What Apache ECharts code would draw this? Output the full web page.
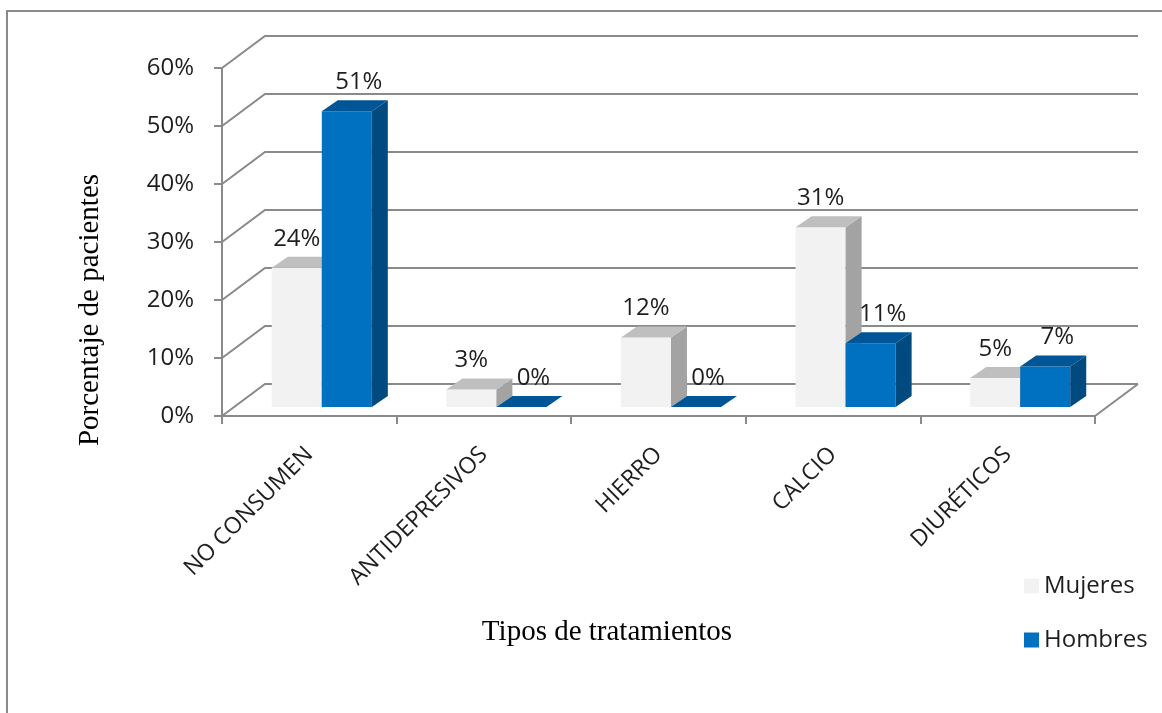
<!DOCTYPE html>
<html>
<head>
<meta charset="utf-8">
<script src="https://cdn.jsdelivr.net/npm/echarts@6/dist/echarts.min.js"></script>
<style>
  html, body { margin: 0; padding: 0; background: #ffffff; }
  #chart { width: 1162px; height: 713px; }
</style>
</head>
<body>
<div id="chart"></div>
<script>
// Treatment types and share of patients (%) by sex
const categories = ['NO CONSUMEN', 'ANTIDEPRESIVOS', 'HIERRO', 'CALCIO', 'DIURÉTICOS'];
const mujeres = [24, 3, 12, 31, 5];
const hombres = [51, 0, 0, 11, 7];
const yTicks = [0, 10, 20, 30, 40, 50, 60];

const LINE = '#8a8a8a';
const TEXT = '#1e1e1e';
const SANS = '"Open Sans", sans-serif';
const SERIF = '"Liberation Serif", "Times New Roman", serif';

// Oblique offsets of the pseudo-3D projection
const WALL = { dx: 43, dy: -32 };    // back wall relative to the front axis
const PLANE = { dx: 12.5, dy: -9 };  // front face of the bars
const DEPTH = { dx: 16, dy: -11 };   // thickness of each bar

const PALETTE = {
  Mujeres: { front: '#F2F2F2', side: '#A3A3A3', top: '#BFBFBF' },
  Hombres: { front: '#0070C0', side: '#004A80', top: '#005596' }
};

// Side-wall diagonals and back-wall gridlines, one per tick value
function renderWall(params, api) {
  const cs = params.coordSys;
  const v = api.value(1);
  const y = api.coord([0, v])[1];
  const x0 = cs.x, x1 = cs.x + cs.width;
  const children = [{
    type: 'polyline',
    shape: { points: [[x0, y], [x0 + WALL.dx, y + WALL.dy], [x1 + WALL.dx, y + WALL.dy]] },
    style: { stroke: LINE, lineWidth: 2, fill: null }
  }];
  if (v === 0) {
    children.push({
      type: 'line',
      shape: { x1: x1, y1: y, x2: x1 + WALL.dx, y2: y + WALL.dy },
      style: { stroke: LINE, lineWidth: 2 }
    });
  }
  return { type: 'group', children: children };
}

// A box-shaped bar: front face, right side, top face and value label
function boxRenderer(slot, colors) {
  return function (params, api) {
    const i = api.value(0);
    const v = api.value(1);
    const band = api.size([1, 0])[0];
    const base = api.coord([i, 0]);
    const top = api.coord([i, v])[1] + PLANE.dy;
    const bottom = base[1] + PLANE.dy;
    const w = band * 0.2865;
    const left = base[0] + PLANE.dx + (slot === 0 ? -w : 0);
    const right = left + w;
    const d = DEPTH;
    const children = [];
    if (bottom - top > 0.5) {
      children.push({
        type: 'rect',
        shape: { x: left, y: top, width: w, height: bottom - top },
        style: { fill: colors.front }
      });
      children.push({
        type: 'polygon',
        shape: { points: [[right, top], [right + d.dx, top + d.dy], [right + d.dx, bottom + d.dy], [right, bottom]] },
        style: { fill: colors.side }
      });
    }
    children.push({
      type: 'polygon',
      shape: { points: [[left, top], [left + d.dx, top + d.dy], [right + d.dx, top + d.dy], [right, top]] },
      style: { fill: colors.top }
    });
    children.push({
      type: 'text',
      style: {
        text: v + '%',
        x: (left + right) / 2 + (slot === 1 ? 12 : 0),
        y: top + d.dy - 18,
        align: 'center',
        verticalAlign: 'middle',
        fontFamily: SANS,
        fontSize: 24,
        fill: TEXT
      }
    });
    return { type: 'group', children: children };
  };
}

const chart = echarts.init(document.getElementById('chart'), null, { renderer: 'canvas' });

chart.setOption({
  animation: false,
  backgroundColor: '#ffffff',
  grid: { left: 222, right: 67, top: 68, bottom: 297, containLabel: false },
  xAxis: {
    type: 'category',
    data: categories,
    boundaryGap: true,
    axisLine: { show: true, lineStyle: { color: LINE, width: 2 } },
    axisTick: { show: true, length: 8, alignWithLabel: false, lineStyle: { color: LINE, width: 2 } },
    axisLabel: {
      interval: 0,
      rotate: 45,
      margin: 35,
      fontFamily: SANS,
      fontSize: 23,
      color: TEXT
    },
    splitLine: { show: false }
  },
  yAxis: {
    type: 'value',
    min: 0,
    max: 60,
    interval: 10,
    axisLine: { show: true, lineStyle: { color: LINE, width: 2 } },
    axisTick: { show: true, length: 8, lineStyle: { color: LINE, width: 2 } },
    axisLabel: {
      formatter: '{value}%',
      margin: 28,
      fontFamily: SANS,
      fontSize: 24,
      color: TEXT
    },
    splitLine: { show: false }
  },
  legend: {
    orient: 'vertical',
    left: 1019,
    top: 569,
    itemWidth: 15,
    itemHeight: 15,
    itemGap: 30,
    icon: 'rect',
    data: ['Mujeres', 'Hombres'],
    textStyle: { fontFamily: SANS, fontSize: 24, color: TEXT }
  },
  graphic: [
    {
      type: 'rect',
      shape: { x: 7, y: 11, width: 1300, height: 900 },
      style: { fill: null, stroke: LINE, lineWidth: 2 },
      silent: true
    },
    {
      type: 'text',
      x: 90, y: 310, rotation: Math.PI / 2,
      style: {
        text: 'Porcentaje de pacientes',
        align: 'center', verticalAlign: 'middle',
        fontFamily: SERIF, fontSize: 29, fill: '#000000'
      }
    },
    {
      type: 'text',
      x: 607, y: 632,
      style: {
        text: 'Tipos de tratamientos',
        align: 'center', verticalAlign: 'middle',
        fontFamily: SERIF, fontSize: 29, fill: '#000000'
      }
    }
  ],
  series: [
    {
      type: 'custom',
      name: 'walls',
      z: 1,
      silent: true,
      clip: false,
      renderItem: renderWall,
      data: yTicks.map(function (t) { return [0, t]; })
    },
    {
      type: 'custom',
      name: 'Mujeres',
      z: 3,
      clip: false,
      itemStyle: { color: PALETTE.Mujeres.front },
      renderItem: boxRenderer(0, PALETTE.Mujeres),
      data: mujeres.map(function (v, i) { return [i, v]; })
    },
    {
      type: 'custom',
      name: 'Hombres',
      z: 3,
      clip: false,
      itemStyle: { color: PALETTE.Hombres.front },
      renderItem: boxRenderer(1, PALETTE.Hombres),
      data: hombres.map(function (v, i) { return [i, v]; })
    }
  ]
});
</script>
</body>
</html>
